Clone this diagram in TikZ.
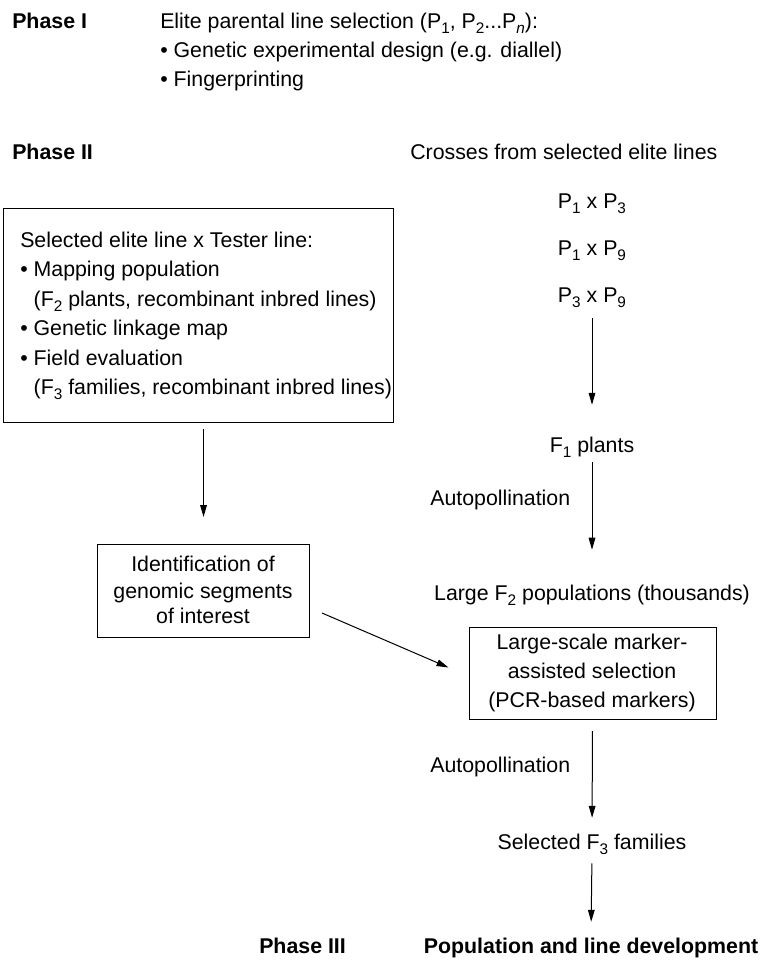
\documentclass[tikz,border=0pt]{standalone}
\usepackage{fontspec}
\setmainfont{Liberation Sans}
\usetikzlibrary{arrows.meta,calc}
\newcommand{\sbs}[1]{\raisebox{-4.2pt}{\fontsize{11.5pt}{12pt}\selectfont #1}}
\begin{document}
\begin{tikzpicture}[x=0.75pt, y=-0.75pt,
  txt/.style={inner sep=0pt, text height=11.6pt, text depth=3.4pt, font=\fontsize{16pt}{19pt}\selectfont},
  bold/.style={txt, font=\fontsize{16pt}{19pt}\selectfont\bfseries},
  frame/.style={draw, line width=0.8pt, inner sep=0pt},
  arr/.style={-{Triangle[length=9pt,width=5pt]}, line width=0.75pt}]
\useasboundingbox (0,0) rectangle (761,960);
% Phase I
\node[bold, anchor=base west] (ph1) at (12,28) {Phase I};
\node[txt, anchor=base west] (elite) at (160,28) {Elite parental line selection (P\sbs{1}, P\sbs{2}...P\sbs{\textit{n}}):};
\node[txt, anchor=base west] (gen) at (160,57) {• Genetic experimental design (e.g. diallel)};
\node[txt, anchor=base west] (fing) at (160,86) {• Fingerprinting};
% Phase II
\node[bold, anchor=base west] (ph2) at (12,159) {Phase II};
\node[txt, anchor=base west] (crosses) at (410,159) {Crosses from selected elite lines};
% left box
\node[frame, anchor=north west, minimum width=292.5pt, minimum height=160.5pt] (tbox) at (3,208) {};
\node[txt, anchor=base west] (t1) at (20,247) {Selected elite line x Tester line:};
\node[txt, anchor=base west] (t2) at (20,276) {• Mapping population};
\node[txt, anchor=base west] (t3) at (20,306) {\phantom{•\ }(F\sbs{2} plants, recombinant inbred lines)};
\node[txt, anchor=base west] (t4) at (20,335) {• Genetic linkage map};
\node[txt, anchor=base west] (t5) at (20,365) {• Field evaluation};
\node[txt, anchor=base west] (t6) at (20,394) {\phantom{•\ }(F\sbs{3} families, recombinant inbred lines)};
% identification box
\node[frame, anchor=north west, minimum width=159pt, minimum height=69.75pt] (ident) at (97,544) {};
\node[txt, anchor=base] (i1) at (203,571) {Identification of};
\node[txt, anchor=base] (i2) at (203,598) {genomic segments};
\node[txt, anchor=base] (i3) at (203,623) {of interest};
% right column
\node[txt, anchor=base] (c1) at (592,208) {P\sbs{1} x P\sbs{3}};
\node[txt, anchor=base] (c2) at (592,255) {P\sbs{1} x P\sbs{9}};
\node[txt, anchor=base] (c3) at (592,302) {P\sbs{3} x P\sbs{9}};
\node[txt, anchor=base] (f1) at (592,452) {F\sbs{1} plants};
\node[txt, anchor=base west] (auto1) at (430,505) {Autopollination};
\node[txt, anchor=base] (f2) at (592,600) {Large F\sbs{2} populations (thousands)};
\node[frame, anchor=north west, minimum width=185.25pt, minimum height=69pt] (ls) at (468.5,627) {};
\node[txt, anchor=base] (l1) at (592,649) {Large-scale marker-};
\node[txt, anchor=base] (l2) at (592,678) {assisted selection};
\node[txt, anchor=base] (l3) at (592,707) {(PCR-based markers)};
\node[txt, anchor=base west] (auto2) at (430,772) {Autopollination};
\node[txt, anchor=base] (sel3) at (592,849) {Selected F\sbs{3} families};
% Phase III
\node[bold, anchor=base west] (ph3) at (259,953) {Phase III};
\node[bold, anchor=base] (pop) at (591,953) {Population and line development};
% connectors
\draw[arr, shorten <=8.6pt, shorten >=23.6pt] (c3.south) -- (f1.north);
\draw[arr, shorten <=4.1pt, shorten >=25.9pt] (f1.south) -- (f2.north);
\draw[arr, shorten <=4.5pt, shorten >=20.25pt] (ident.north |- tbox.south) -- (ident.north);
\coordinate (d1) at ($(ident.east)+(12,22)$);
\coordinate (d2) at ($(ls.west)+(-20,-6)$);
\draw[arr] (d1) -- (d2);
\draw[arr, shorten <=8.25pt, shorten >=11.6pt] (ls.south) -- (sel3.north);
\draw[arr, shorten <=7.1pt, shorten >=11.6pt] (sel3.south) -- (pop.north);
\end{tikzpicture}
\end{document}
